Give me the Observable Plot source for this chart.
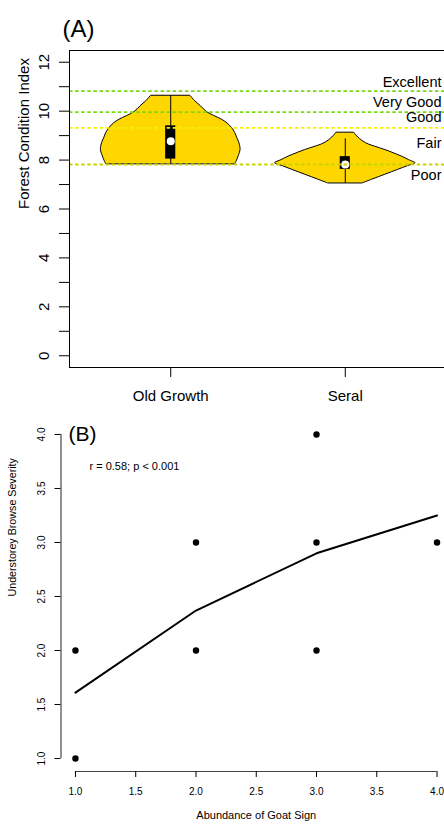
<!DOCTYPE html>
<html><head><meta charset="utf-8">
<script src="https://cdn.jsdelivr.net/npm/d3@7"></script>
<script src="https://cdn.jsdelivr.net/npm/@observablehq/plot@0.6"></script>
<style>
html,body{margin:0;padding:0;background:#fff;overflow:hidden;width:444px;height:827px}
.panel{position:relative;width:444px;overflow:hidden}
.panel svg{display:block;max-width:none !important;height:auto}
</style></head><body>
<div class="panel" id="a"></div>
<div class="panel" id="b"></div>
<script>
// ---------- Panel A data ----------
const groups = ["Old Growth", "Seral"];
const groupPos = [1, 2];
// violin outlines: value (y) and half-width of the density (x units)
const ogY  = [7.84, 7.95, 8.15, 8.42, 8.7, 8.9, 9.1, 9.31, 9.5, 9.65, 9.8, 9.96, 10.2, 10.4, 10.63];
const ogHW = [0.37, 0.378, 0.389, 0.40, 0.393, 0.381, 0.37, 0.351, 0.325, 0.294, 0.25, 0.208, 0.173, 0.141, 0.112];
const seY  = [7.05, 7.2, 7.4, 7.6, 7.75, 7.87, 8.0, 8.14, 8.3, 8.41, 8.55, 8.64, 8.75, 8.85, 9.0, 9.12];
const seHW = [0.10, 0.155, 0.229, 0.303, 0.358, 0.402, 0.365, 0.325, 0.27, 0.23, 0.17, 0.134, 0.105, 0.086, 0.064, 0.051];
const boxQ1 = [8.04, 7.62];
const boxQ3 = [9.40, 8.14];
const boxMedian = [8.77, 7.82];
const whiskerLow = [7.84, 7.05];
const whiskerHigh = [10.63, 8.87];
const thresholdNames = ["Excellent", "Very Good", "Good", "Poor"];
const thresholdValues = [10.82, 9.96, 9.32, 7.82];
const thresholdColors = ["#78d911", "#78d911", "#f2f200", "#c8d400"];
const conditionNames = ["Excellent", "Very Good", "Good", "Fair", "Poor"];
const conditionLabelY = [11.19, 10.37, 9.75, 8.67, 7.38];
const yTicksA = [0,1,2,3,4,5,6,7,8,9,10,11,12];

// ---------- Panel B data ----------
const goatSign = [1, 1, 2, 2, 3, 3, 3, 4];
const browseSeverity = [2, 1, 3, 2, 4, 3, 2, 3];
const lowessX = [1, 2, 3, 4];
const lowessY = [1.61, 2.37, 2.90, 3.25];
const ticksB = [1.0, 1.5, 2.0, 2.5, 3.0, 3.5, 4.0];

const FONT = "'Liberation Sans', Arial, Helvetica, sans-serif";

// build tables
const violin = [];
ogY.forEach((y, i) => violin.push({g: groups[0], pos: groupPos[0], y, hw: ogHW[i]}));
seY.forEach((y, i) => violin.push({g: groups[1], pos: groupPos[1], y, hw: seHW[i]}));
const boxes = groups.map((g, i) => ({g, pos: groupPos[i], q1: boxQ1[i], q3: boxQ3[i], med: boxMedian[i], lo: whiskerLow[i], hi: whiskerHigh[i]}));
const thresholds = thresholdNames.map((n, i) => ({n, v: thresholdValues[i], c: thresholdColors[i]}));
const condLabels = conditionNames.map((n, i) => ({n, y: conditionLabelY[i]}));

const plotA = Plot.plot({
  width: 446, height: 410,
  marginLeft: 69, marginRight: 0, marginTop: 50, marginBottom: 43,
  x: {domain: [0.42, 2.58], axis: null},
  y: {domain: [-0.48, 12.48], axis: null},
  style: {fontFamily: FONT, background: "#fff", color: "#000", maxWidth: "none"},
  marks: [
    Plot.areaX(violin, {y: "y", x1: d => d.pos - d.hw, x2: d => d.pos + d.hw, z: "g",
      fill: "#FFD700", stroke: "#000", strokeWidth: 1, curve: "catmull-rom"}),
    Plot.ruleX(boxes, {x: "pos", y1: "lo", y2: "hi", stroke: "#000", strokeWidth: 1}),
    Plot.rect(boxes, {x1: d => d.pos - 0.029, x2: d => d.pos + 0.029, y1: "q1", y2: "q3", fill: "#000"}),
    Plot.dot(boxes, {x: "pos", y: "med", r: 4, fill: "#fff", stroke: null}),
    Plot.ruleY(thresholds, {y: "v", stroke: "c", strokeWidth: 1.8, strokeDasharray: "3.5,2.6"}),
    Plot.text(condLabels, {y: "y", text: "n", frameAnchor: "right", textAnchor: "end", dx: -5, fontSize: 14.5}),
    Plot.frame({stroke: "#000", strokeWidth: 1}),
    Plot.axisY({ticks: yTicksA, tickSize: 10, tickPadding: 10.5, tickRotate: -90, fontSize: 15,
      tickFormat: d => (d % 2 === 0 ? String(d) : ""), label: null}),
    Plot.axisX({ticks: groupPos, tickSize: 10, tickPadding: 13, fontSize: 15,
      tickFormat: d => groups[groupPos.indexOf(d)], label: null}),
    Plot.text(["Forest Condition Index"], {text: d => d, frameAnchor: "left", rotate: -90, dx: -45, fontSize: 15}),
    Plot.text(["(A)"], {text: d => d, frameAnchor: "top-left", textAnchor: "start", lineAnchor: "bottom", dx: -7, dy: -13.5, fontSize: 24})
  ]
});
document.getElementById("a").appendChild(plotA);

const points = goatSign.map((x, i) => ({x, y: browseSeverity[i]}));
const lowess = lowessX.map((x, i) => ({x, y: lowessY[i]}));

const plotB = Plot.plot({
  width: 451, height: 417,
  marginLeft: 60.5, marginRight: 0, marginTop: 11, marginBottom: 56,
  x: {domain: [0.88, 4.12], axis: null},
  y: {domain: [0.88, 4.12], axis: null},
  style: {fontFamily: FONT, background: "#fff", color: "#000", maxWidth: "none"},
  marks: [
    Plot.ruleX([0.88], {y1: ticksB[0], y2: ticksB[ticksB.length - 1], stroke: "#222", strokeWidth: 1}),
    Plot.ruleY([0.88], {x1: ticksB[0], x2: ticksB[ticksB.length - 1], stroke: "#444", strokeWidth: 1.2}),
    Plot.axisY({ticks: ticksB, tickSize: 6, tickPadding: 10.5, tickRotate: -90, fontSize: 10,
      tickFormat: d3.format(".1f"), label: null}),
    Plot.axisX({ticks: ticksB, tickSize: 6, tickPadding: 10, fontSize: 10,
      tickFormat: d3.format(".1f"), label: null}),
    Plot.line(lowess, {x: "x", y: "y", stroke: "#000", strokeWidth: 2}),
    Plot.dot(points, {x: "x", y: "y", r: 3.2, fill: "#000", stroke: null}),
    Plot.text(["Understorey Browse Severity"], {text: d => d, frameAnchor: "left", rotate: -90, dx: -48.5, fontSize: 10.7}),
    Plot.text(["Abundance of Goat Sign"], {text: d => d, frameAnchor: "bottom", dy: 47, fontSize: 11}),
    Plot.text(["r = 0.58; p < 0.001"], {text: d => d, frameAnchor: "top-left", textAnchor: "start", dx: 28.5, dy: 40.7, fontSize: 11}),
    Plot.text(["(B)"], {text: d => d, frameAnchor: "top-left", textAnchor: "start", lineAnchor: "bottom", dx: 7.5, dy: 19.5, fontSize: 21})
  ]
});
document.getElementById("b").appendChild(plotB);
</script>
</body></html>
